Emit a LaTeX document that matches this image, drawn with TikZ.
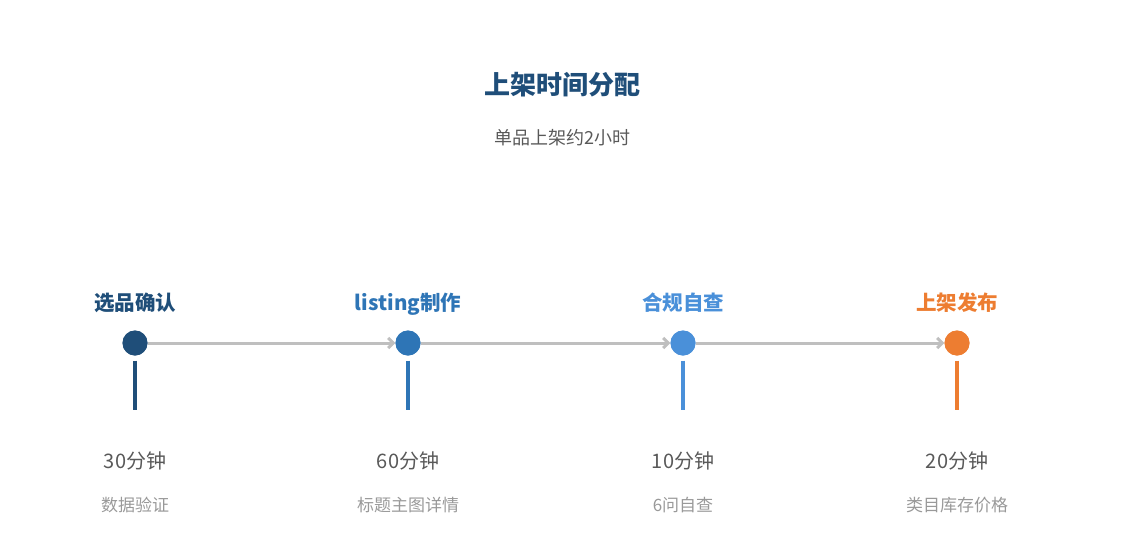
\documentclass[tikz,border=0pt]{standalone}
\usepackage{fontspec}
\setmainfont{Noto Sans CJK SC}
\usetikzlibrary{arrows.meta,positioning}
\definecolor{cA}{HTML}{1F4E79}
\definecolor{cB}{HTML}{2E75B6}
\definecolor{cC}{HTML}{4A90D9}
\definecolor{cD}{HTML}{ED7D31}
\definecolor{txt}{HTML}{595959}
\definecolor{sub}{HTML}{999999}
\definecolor{link}{HTML}{BFBFBF}
\tikzset{
  dot/.style={circle, fill=#1, minimum size=25pt, inner sep=0pt},
  step/.style={font=\fontsize{20.5pt}{22pt}\selectfont\bfseries, text=#1, anchor=base},
  time/.style={font=\fontsize{20pt}{22pt}\selectfont, text=txt},
  desc/.style={font=\fontsize{17pt}{19pt}\selectfont, text=sub},
  link/.style={draw=link, line width=3pt, -{Straight Barb[length=5pt,width=10pt]}},
}
\begin{document}
\begin{tikzpicture}[x=1pt,y=-1pt]
	\useasboundingbox (0,0) rectangle (1125,555);
	\node[font=\fontsize{26pt}{28pt}\selectfont\bfseries, text=cA](title) at (562,85){上架时间分配};
	\node[font=\fontsize{18pt}{20pt}\selectfont, text=txt](subtitle) at (562,138){单品上架约2小时};
	
	\foreach \x/\c/\name/\t/\d [count=\i] in {135/cA/选品确认/30分钟/数据验证,
	                          408/cB/listing制作/60分钟/标题主图详情,
	                          683/cC/合规自查/10分钟/6问自查,
	                          957/cD/上架发布/20分钟/类目库存价格}{
		\node[step=\c](s\i) at (\x,310){\name};
		\node[dot=\c](p\i) at (\x,343){};
		\coordinate(b\i) at (\x,410);
		\node[time](t\i) at (\x,461){\t};
		\node[desc](d\i) at (\x,505){\d};
	}
	
	\draw[link] (p1) -- (p2);
	\draw[link] (p2) -- (p3);
	\draw[link] (p3) -- (p4);
	\foreach \i/\c in {1/cA,2/cB,3/cC,4/cD}{
		\draw[\c, line width=4pt] ([yshift=-5pt]p\i.south) -- (b\i);
		\node[dot=\c] at (p\i){};
	}
\end{tikzpicture}
\end{document}
